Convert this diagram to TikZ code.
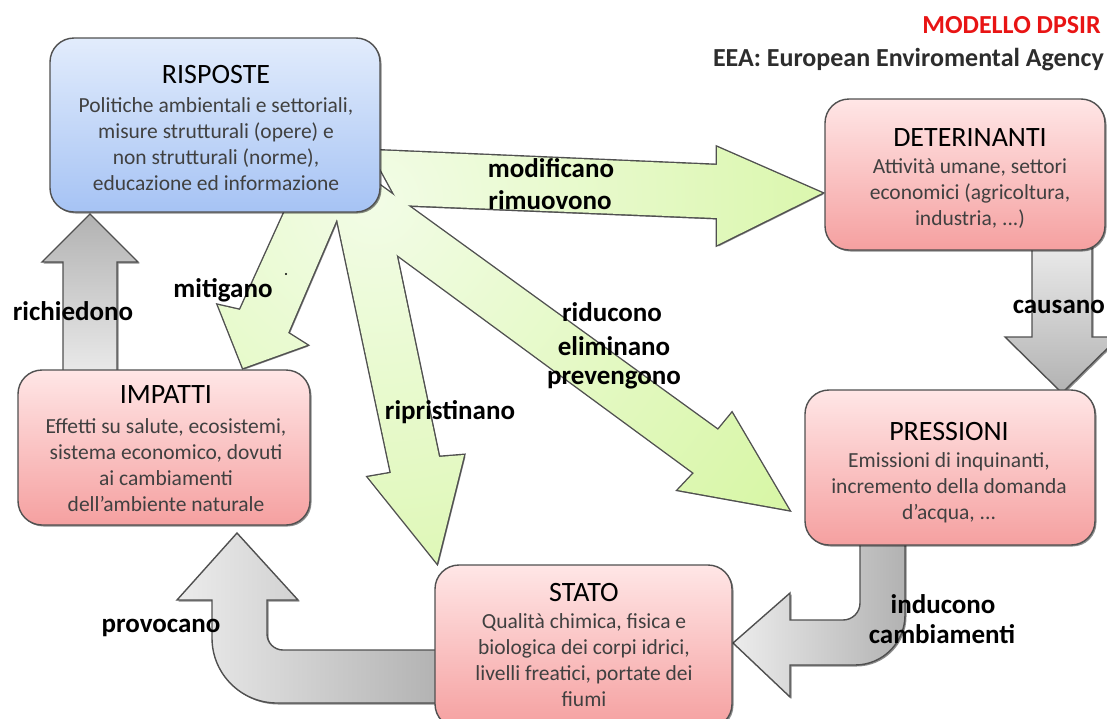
\documentclass[tikz,border=0pt]{standalone}
\usepackage{fontspec}
\setmainfont{Carlito}
\usetikzlibrary{shadows}
\definecolor{gA}{RGB}{242,252,230}
\definecolor{gB}{RGB}{210,245,152}
\definecolor{edge}{RGB}{80,80,80}
\definecolor{pinkT}{RGB}{255,230,230}
\definecolor{pinkB}{RGB}{245,160,160}
\definecolor{blueT}{RGB}{226,236,252}
\definecolor{blueB}{RGB}{166,195,244}
\definecolor{grL}{RGB}{236,236,236}
\definecolor{grD}{RGB}{178,178,178}
\definecolor{txt}{RGB}{64,64,64}
\definecolor{dpsir}{RGB}{232,20,20}
\definecolor{eeac}{RGB}{45,45,45}
\begin{document}
\begin{tikzpicture}[x=1pt,y=-1pt,
  shad/.style={drop shadow={shadow xshift=1.5pt,shadow yshift=-1.5pt,opacity=0.45,fill=black}},
  box/.style={draw=edge, line width=1.4pt, rounded corners=24pt, shad, inner sep=0pt},
  pinkbox/.style={box, top color=pinkT, bottom color=pinkB},
  bluebox/.style={box, top color=blueT, bottom color=blueB},
  ttl/.style={font=\fontsize{28}{32}\selectfont, text=black, inner sep=0pt},
  dsc/.style={font=\fontsize{21.5}{26}\selectfont, text=txt, align=center, inner sep=0pt},
  lbl/.style={font=\fontsize{27}{31}\bfseries\selectfont, text=black, align=center, inner sep=0pt},
  garrow/.style={draw=edge, line width=1.4pt, shad},
  goutline/.style={draw=edge, line width=2.8pt, shad},
]
\useasboundingbox (0,0) rectangle (1107,718);

% green arrow outlines
\def\arrA{(370,150) -- (717,165) -- (717,147) -- (822,193) -- (717,245) -- (717,218) -- (400,205) -- cycle}
\def\arrB{(290,200) -- (240,310) -- (218,305) -- (243,368) -- (307,345) -- (288,333) -- (345,200) -- cycle}
\def\arrC{(333,200) -- (391,473) -- (368,477) -- (437,563) -- (464,455) -- (439,457) -- (385,200) -- cycle}
\def\arrD{(370,178) -- (718,430) -- (732,413) -- (789,510) -- (678,490) -- (694,473) -- (370,235) -- cycle}
\path[goutline] \arrA;
\path[goutline] \arrB;
\path[goutline] \arrC;
\path[goutline] \arrD;
\begin{scope}\clip \arrA; \shade[inner color=gA, outer color=gB] (375,200) circle (620); \end{scope}
\begin{scope}\clip \arrB; \shade[inner color=gA, outer color=gB] (375,200) circle (620); \end{scope}
\begin{scope}\clip \arrC; \shade[inner color=gA, outer color=gB] (375,200) circle (620); \end{scope}
\begin{scope}\clip \arrD; \shade[inner color=gA, outer color=gB] (375,200) circle (620); \end{scope}

% gray arrows
\path[garrow, top color=grD, bottom color=grL] (63,380) -- (63,262) -- (42,262) -- (90,214) -- (138,262) -- (117,262) -- (117,380) -- cycle;
\path[garrow, top color=grL, bottom color=grD] (1032,240) -- (1032,337) -- (1005,337) -- (1062,393) -- (1119,337) -- (1092,337) -- (1092,240) -- cycle;
\path[garrow, left color=grL, right color=grD] (440,650) -- (283,650) .. controls (274.2,650) and (267,642.8) .. (267,634) -- (267,600) -- (298,600) -- (237,533) -- (177,600) -- (212,600) -- (212,638) .. controls (212,673.9) and (241.1,703) .. (277,703) -- (440,703) -- cycle;
\path[garrow, left color=grL, right color=grD] (860,535) -- (860,603) .. controls (860,612.4) and (852.4,620) .. (843,620) -- (790,620) -- (790,593) -- (733,643) -- (790,697) -- (790,665) -- (855,665) .. controls (882.6,665) and (905,642.6) .. (905,615) -- (905,535) -- cycle;

% boxes
\node[bluebox, minimum width=330pt, minimum height=174pt] (risp) at (215,125) {};
\node[pinkbox, minimum width=280pt, minimum height=151pt] (det) at (965,174.5) {};
\node[pinkbox, minimum width=290pt, minimum height=155pt] (press) at (950,467.5) {};
\node[pinkbox, minimum width=292pt, minimum height=155pt] (imp) at (164,447.5) {};
\node[pinkbox, minimum width=297pt, minimum height=163pt] (stato) at (583.5,646.5) {};

% box texts
\node[ttl] (rispT) at (216,75) {RISPOSTE};
\node[dsc] (rispD) at (216,144) {Politiche ambientali e settoriali,\\misure strutturali (opere) e\\non strutturali (norme),\\educazione ed informazione};
\node[ttl] (detT) at (970,138) {DETERINANTI};
\node[dsc] (detD) at (970,194) {Attività umane, settori\\economici (agricoltura,\\industria, ...)};
\node[ttl] (pressT) at (949,432) {PRESSIONI};
\node[dsc] (pressD) at (949,488) {Emissioni di inquinanti,\\incremento della domanda\\d’acqua, ...};
\node[ttl] (impT) at (166,395) {IMPATTI};
\node[dsc] (impD) at (166,465) {Effetti su salute, ecosistemi,\\sistema economico, dovuti\\ai cambiamenti\\dell’ambiente naturale};
\node[ttl] (statoT) at (584,592) {STATO};
\node[dsc] (statoD) at (584,660) {Qualità chimica, fisica e\\biologica dei corpi idrici,\\livelli freatici, portate dei\\fiumi};

% labels
\node[lbl] (l1) at (551,168) {modificano};
\node[lbl] (l2) at (550,200) {rimuovono};
\node[lbl] (l3) at (223,290) {mitigano};
\fill (286,274) circle (1.1);
\node[lbl] (l4) at (73,311) {richiedono};
\node[lbl] (l5) at (450,412) {ripristinano};
\node[lbl] (l6) at (612,312) {riducono};
\node[lbl] (l7) at (614,346) {eliminano};
\node[lbl] (l8) at (614,380) {prevengono};
\node[lbl, anchor=east] (l9) at (1105,307) {causano};
\node[lbl] (l10) at (161,628) {provocano};
\node[lbl] (l11) at (943,604) {inducono};
\node[lbl] (l12) at (942,634) {cambiamenti};

% titles
\node[anchor=east, inner sep=0pt, font=\fontsize{26}{30}\bfseries\selectfont, text=dpsir] (title) at (1101,25) {MODELLO DPSIR};
\node[anchor=east, inner sep=0pt, font=\fontsize{26}{30}\bfseries\selectfont, text=eeac] (eea) at (1104,60) {EEA: European Enviromental Agency};
\end{tikzpicture}
\end{document}
